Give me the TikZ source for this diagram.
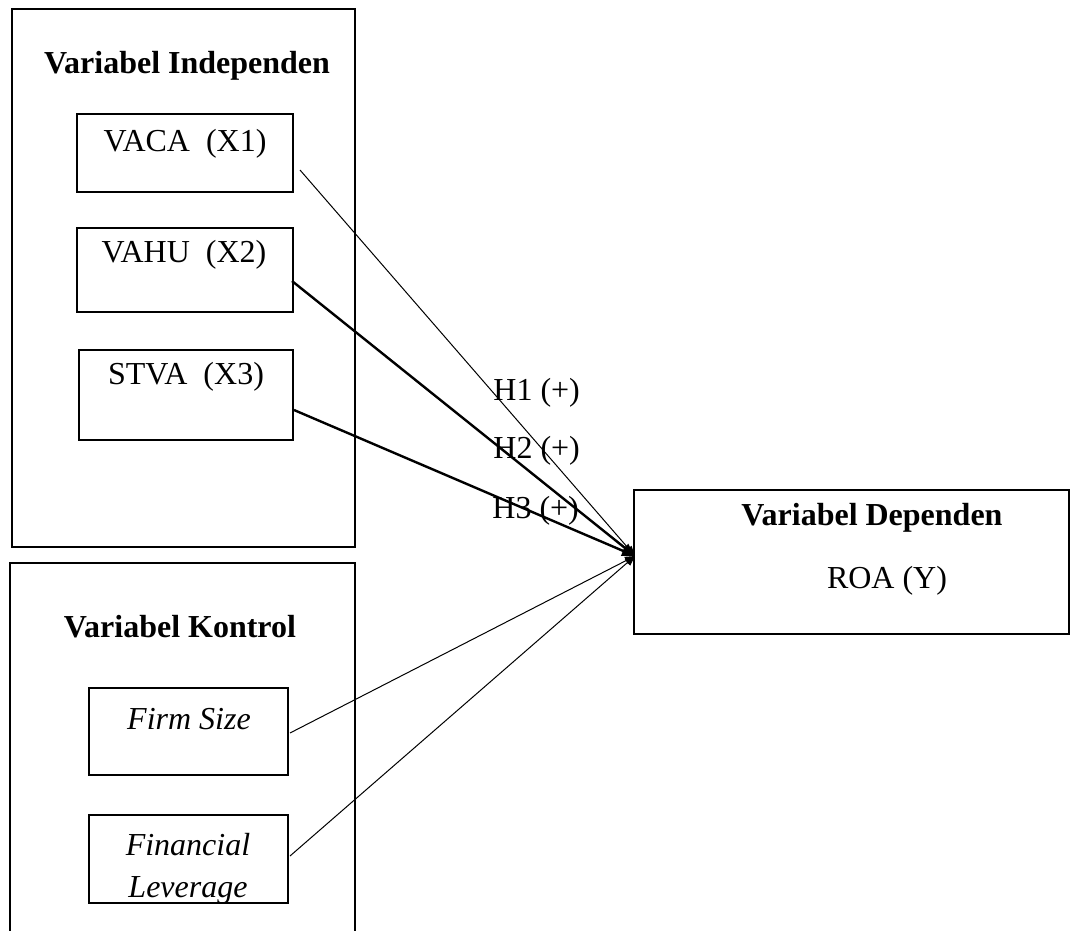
\documentclass[tikz,border=0pt]{standalone}
\usepackage{fontspec}
\setmainfont{Liberation Serif}
\usetikzlibrary{arrows.meta}
\begin{document}
\begin{tikzpicture}[x=0.5pt,y=-0.5pt,
  box/.style={draw, line width=1pt, inner sep=0pt},
  txt/.style={anchor=base, inner sep=0pt, font=\fontsize{16}{20.5}\selectfont},
  btxt/.style={txt, font=\fontsize{16}{20.5}\selectfont\bfseries},
  thinarr/.style={line width=0.5pt, -{Triangle[length=5pt,width=4pt]}},
  thickarr/.style={line width=1.2pt, -{Triangle[length=6.5pt,width=5pt]}}]
\useasboundingbox (0,0) rectangle (1072,931);
% outer groups
\node[box, minimum width=171.5pt, minimum height=269pt] (indep) at (183.5,278) {};
\draw[line width=1pt] (10,945) |- (355,563) -- (355,945);
\coordinate (kontrol) at (182.5,563);
\node[box, minimum width=217.5pt, minimum height=72pt] (dep) at (851.5,562) {};
% titles
\node[btxt] (tindep) at (187,74) {Variabel Independen};
\node[btxt] (tkont) at (180,637) {Variabel Kontrol};
\node[btxt] (tdep) at (872,525) {Variabel Dependen};
\node[txt] (troa) at (887,588) {ROA (Y)};
% independent boxes
\node[box, minimum width=108pt, minimum height=39pt] (x1) at (185,153) {};
\node[txt] (tx1) at (185,152) {VACA\ \ (X1)};
\node[box, minimum width=108pt, minimum height=42pt] (x2) at (185,270) {};
\node[txt] (tx2) at (184,263) {VAHU\ \ (X2)};
\node[box, minimum width=107pt, minimum height=45pt] (x3) at (186,395) {};
\node[txt] (tx3) at (186,384) {STVA\ \ (X3)};
% control boxes
\node[box, minimum width=99.5pt, minimum height=43.5pt] (fs) at (188.5,731.5) {};
\node[txt] (tfs) at (189,729) {\itshape Firm Size};
\node[box, minimum width=99.5pt, minimum height=44pt] (fl) at (188.5,859) {};
\node[txt] (tfl1) at (188,855) {\itshape Financial};
\node[txt] (tfl2) at (188,897) {\itshape Leverage};
% connectors
\coordinate (tip) at (635,556);
\coordinate (s1) at (300,170);
\coordinate (s2) at (292,281);
\coordinate (s3) at (294,410);
\coordinate (s4) at (290,733);
\coordinate (s5) at (290,856);
\draw[thinarr] (s1) -- (tip);
\draw[thickarr] (s2) -- (tip);
\draw[thickarr] (s3) -- (tip);
\draw[thinarr] (s4) -- (tip);
\draw[thinarr] (s5) -- (tip);
% hypothesis labels
\node[txt, anchor=base west] (h1) at (493,400) {H1 (+)};
\node[txt, anchor=base west] (h2) at (493,458) {H2 (+)};
\node[txt, anchor=base west] (h3) at (492,518) {H3 (+)};
\end{tikzpicture}
\end{document}
